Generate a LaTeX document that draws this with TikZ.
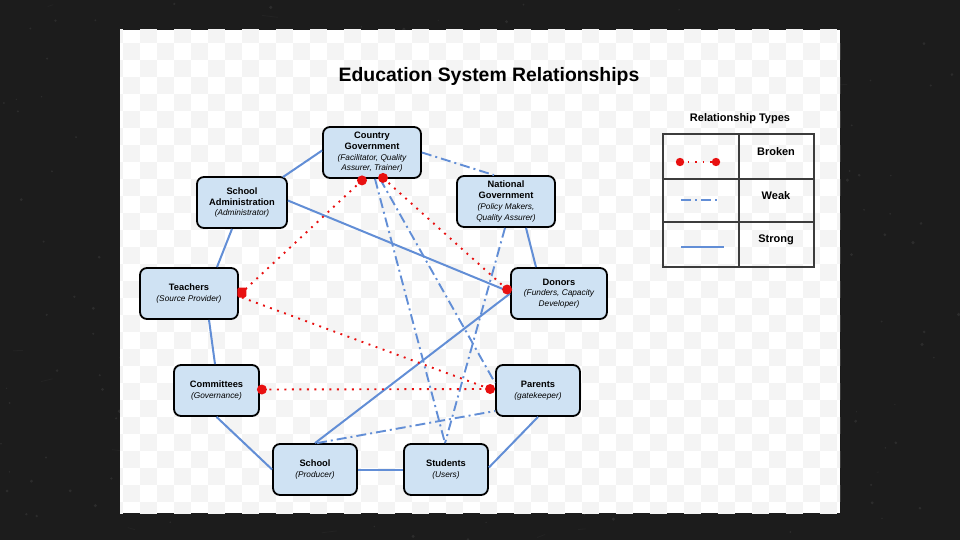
\documentclass[tikz,border=0pt]{standalone}
\usepackage{fontspec}
\setmainfont{Liberation Sans}
\usetikzlibrary{calc}
\definecolor{board}{RGB}{28,28,28}
\definecolor{chalk}{RGB}{120,120,120}
\definecolor{checker}{RGB}{244,244,244}
\definecolor{nodefill}{RGB}{207,226,243}
\definecolor{linkblue}{RGB}{98,142,214}
\definecolor{brokenred}{RGB}{232,16,16}
\definecolor{gridgray}{RGB}{60,60,60}
\newcommand\rolefont{\fontsize{8.3}{10.7}\selectfont\mdseries\itshape}
\begin{document}
\begin{tikzpicture}[x=1pt,y=-1pt,
  entity/.style={draw=black, line width=1.8pt, rounded corners=7pt, fill=nodefill,
    align=center, inner sep=0pt, minimum height=51pt,
    font=\fontsize{9.3}{10.7}\selectfont\bfseries},
  strong/.style={draw=linkblue, line width=2pt},
  weak/.style={draw=linkblue, line width=1.9pt, dash pattern=on 10pt off 4pt on 2pt off 4pt},
  broken/.style={draw=brokenred, line width=1.9pt, dash pattern=on 1.9pt off 5.6pt},
  enddot/.style={fill=brokenred},
  legtext/.style={font=\fontsize{11}{13}\selectfont\bfseries, inner sep=0pt}
]
\useasboundingbox (0,0) rectangle (960,540);
\fill[board] (0,0) rectangle (960,540);
\pgfmathsetseed{7}
\foreach \k in {1,...,260}{
  \fill[chalk, opacity=0.18] ({960*rnd},{540*rnd}) circle ({0.6+1.2*rnd});
}
\foreach \k in {1,...,40}{
  \draw[chalk, opacity=0.08, line width=0.8pt] ({960*rnd},{540*rnd}) -- ++({-20+40*rnd},{-4+8*rnd});
}
\fill[white] (120,30) rectangle (840,513);
\begin{scope}
  \clip (120,30) rectangle (840,513);
  \foreach \i in {0,...,43}{
    \foreach \j in {0,...,15}{
      \fill[checker] ({106+17*\i},{26+17*(2*\j+mod(\i,2))}) rectangle +(17,17);
    }
  }
\end{scope}

% title
\node (title) at (489,76) {\fontsize{19.4}{22}\selectfont\bfseries Education System Relationships};

% entities
\node[entity, minimum width=98pt] (cg) at (372,152.5) {Country\\Government\\{\rolefont (Facilitator, Quality}\\{\rolefont Assurer, Trainer)}};
\node[entity, minimum width=98pt] (ng) at (506,201.5) {National\\Government\\{\rolefont (Policy Makers,}\\{\rolefont Quality Assurer)}};
\node[entity, minimum width=90pt] (sa) at (242,202.5) {School\\Administration\\{\rolefont (Administrator)}};
\node[entity, minimum width=98pt] (te) at (189,293.5) {Teachers\\{\rolefont (Source Provider)}};
\node[entity, minimum width=96pt] (do) at (559,293.5) {Donors\\{\rolefont (Funders, Capacity}\\{\rolefont Developer)}};
\node[entity, minimum width=85pt] (co) at (216.5,390.5) {Committees\\{\rolefont (Governance)}};
\node[entity, minimum width=84pt] (pa) at (538,390.5) {Parents\\{\rolefont (gatekeeper)}};
\node[entity, minimum width=84pt] (sc) at (315,469.5) {School\\{\rolefont (Producer)}};
\node[entity, minimum width=84pt] (st) at (446,469.5) {Students\\{\rolefont (Users)}};

% strong links
\draw[strong] ($(sa.north east)+(-5,1)$) -- ($(cg.west)+(0,-2)$);
\draw[strong] ($(sa.east)+(0,-2)$) -- ($(do.west)+(0,-1.5)$);
\draw[strong] ($(ng.south)+(20,0)$) -- ($(do.north)+(-23,0)$);
\draw[strong] (do.west) -- (sc.north);
\draw[strong] ($(sa.south)+(-10,0)$) -- ($(te.north)+(28,0)$);
\draw[strong] ($(te.south)+(20,0)$) -- ($(co.north)+(-1.5,0)$);
\draw[strong] (co.south) -- (sc.west);
\draw[strong] (sc.east) -- (st.west);
\draw[strong] ($(st.east)+(0,-2)$) -- (pa.south);

% weak links
\draw[weak] (cg.east) -- ($(ng.north)+(-12,0)$);
\draw[weak] ($(cg.south)+(3,0)$) -- ($(st.north)+(-1,0)$);
\draw[weak] ($(cg.south)+(8,0)$) -- ($(pa.west)+(0,-7.5)$);
\draw[weak] ($(ng.south)+(-1,0)$) -- ($(st.north)+(-1,0)$);
\draw[weak] ($(sc.north)+(2,0)$) -- ($(pa.west)+(0,20.5)$);

% broken links
\coordinate (cgA) at ($(cg.south)+(-10,1.5)$);
\coordinate (cgB) at ($(cg.south)+(11,-1)$);
\coordinate (teA) at ($(te.east)+(3,-1)$);
\coordinate (teB) at ($(te.east)+(3,4)$);
\coordinate (doA) at ($(do.west)+(-3,-4)$);
\coordinate (coA) at ($(co.east)+(2,-1)$);
\coordinate (paA) at ($(pa.west)+(-5,-1.5)$);
\draw[broken] (cgA) -- (teA);
\draw[broken] (cgB) -- (doA);
\draw[broken] (teB) -- (paA);
\draw[broken] (coA) -- (paA);
\foreach \p in {cgA,cgB,doA,coA,paA}{\fill[enddot] (\p) circle (5);}
\fill[enddot, rounded corners=1.5pt] ($(teA)+(-4.5,-5)$) rectangle ($(teA)+(4.5,5)$);

% legend
\node[legtext] (legtitle) at (740,119) {Relationship Types};
\draw[gridgray, line width=1.2pt] (663,134) rectangle (814,267);
\draw[gridgray, line width=1.2pt] (739,134) -- (739,267) (663,179) -- (814,179) (663,222) -- (814,222);
\coordinate (lbA) at (680,162);
\coordinate (lbB) at (716,162);
\draw[broken, line width=1.6pt, dash pattern=on 1.6pt off 6pt] (lbA) -- (lbB);
\fill[enddot] (lbA) circle (4.2);
\fill[enddot] (lbB) circle (4.2);
\coordinate (lwA) at (681,200);
\coordinate (lwB) at (720,200);
\draw[weak, line width=1.4pt] (lwA) -- (lwB);
\coordinate (lsA) at (681,247);
\coordinate (lsB) at (724,247);
\draw[strong, line width=1.6pt] (lsA) -- (lsB);
\node[legtext] (lbroken) at (776,152) {Broken};
\node[legtext] (lweak) at (776,196) {Weak};
\node[legtext] (lstrong) at (776,240) {Strong};
\end{tikzpicture}
\end{document}
